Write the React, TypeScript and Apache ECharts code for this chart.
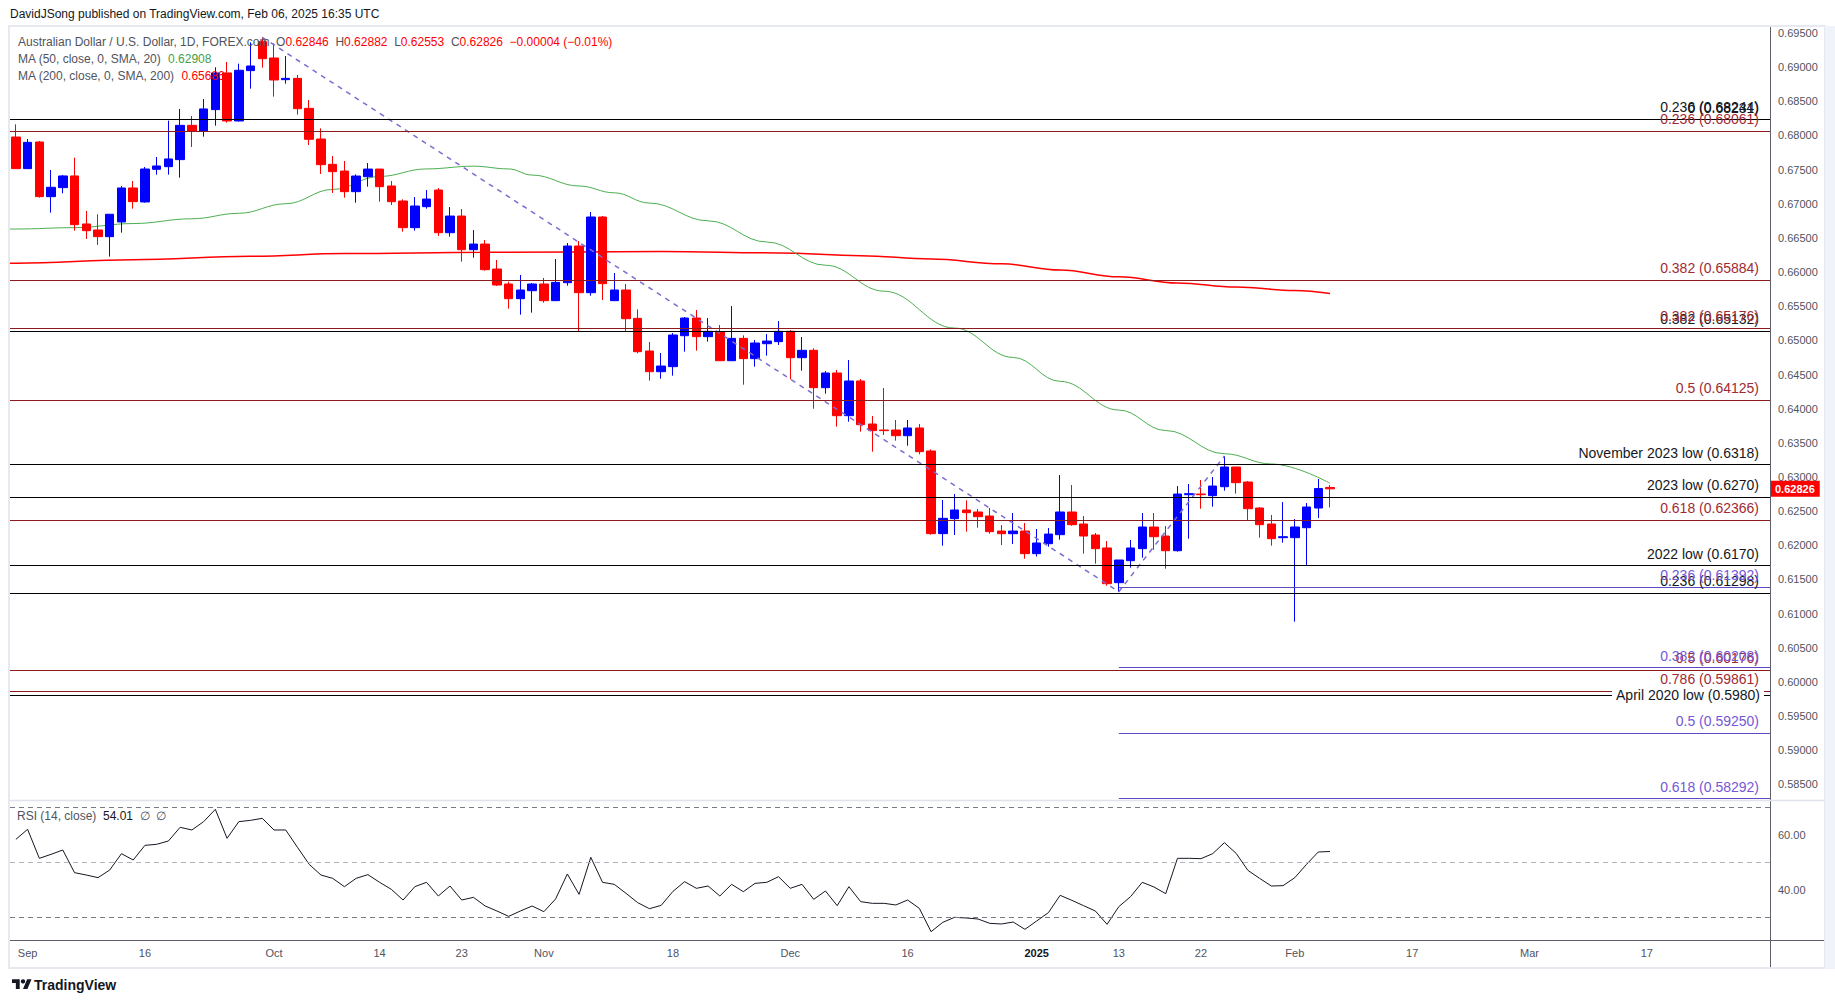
import React, { useEffect, useRef } from "react";
import * as echarts from "echarts";

// ---------- DATA ----------
// daily candles, [open, high, low, close]
const ohlc: number[][] = [
  [0.67977, 0.68163, 0.6751, 0.67514], [0.67514, 0.67948, 0.6751, 0.67899], [0.67904, 0.67919, 0.6709, 0.67104],
  [0.67104, 0.67494, 0.6687, 0.67241], [0.67236, 0.67421, 0.67153, 0.67407], [0.67407, 0.67675, 0.66606, 0.66694],
  [0.66704, 0.66894, 0.66484, 0.66606], [0.66616, 0.66846, 0.66397, 0.66518], [0.66518, 0.6685, 0.66226, 0.66846],
  [0.66733, 0.6726, 0.66577, 0.67231], [0.67231, 0.67333, 0.66928, 0.67031], [0.67026, 0.67538, 0.67016, 0.67509],
  [0.67504, 0.67685, 0.67426, 0.67553], [0.67543, 0.68217, 0.67426, 0.67656], [0.67646, 0.68388, 0.67382, 0.68148],
  [0.68148, 0.68285, 0.67831, 0.6806], [0.6806, 0.68534, 0.67982, 0.68388], [0.68378, 0.68998, 0.68143, 0.68915],
  [0.68915, 0.69076, 0.68187, 0.68212], [0.68212, 0.69051, 0.68205, 0.68954], [0.68949, 0.69363, 0.68685, 0.69017],
  [0.69373, 0.69437, 0.68993, 0.69124], [0.69134, 0.69349, 0.68568, 0.68812], [0.68817, 0.69163, 0.68758, 0.68836],
  [0.68836, 0.68885, 0.68305, 0.68392], [0.68397, 0.68519, 0.6786, 0.67943], [0.67948, 0.68104, 0.67436, 0.67572],
  [0.67577, 0.67699, 0.67158, 0.6747], [0.67479, 0.67626, 0.67089, 0.67177], [0.67177, 0.6743, 0.67016, 0.67406],
  [0.67396, 0.67596, 0.6725, 0.67508], [0.67508, 0.6751, 0.6703, 0.6725], [0.6726, 0.67333, 0.66981, 0.6703],
  [0.6704, 0.67064, 0.66591, 0.6665], [0.6665, 0.67098, 0.66606, 0.66967], [0.66957, 0.67201, 0.66928, 0.67069],
  [0.67201, 0.6723, 0.66528, 0.66576], [0.66576, 0.66952, 0.66518, 0.6682], [0.6682, 0.66923, 0.66152, 0.66327],
  [0.66327, 0.66615, 0.6621, 0.6641], [0.6641, 0.66469, 0.6602, 0.66035], [0.66044, 0.66176, 0.65796, 0.6581],
  [0.65825, 0.65859, 0.65464, 0.6561], [0.6561, 0.65957, 0.65376, 0.65737], [0.65727, 0.6584, 0.65405, 0.65825],
  [0.65825, 0.65913, 0.65552, 0.65581], [0.65581, 0.66191, 0.65575, 0.65849], [0.65844, 0.66425, 0.658, 0.66381],
  [0.66381, 0.66454, 0.65127, 0.65698], [0.65698, 0.66879, 0.65654, 0.66806], [0.66806, 0.6682, 0.65591, 0.6583],
  [0.65581, 0.65986, 0.65575, 0.65737], [0.65737, 0.65825, 0.65137, 0.65317], [0.65322, 0.65454, 0.6481, 0.64834],
  [0.64844, 0.64976, 0.6441, 0.64541], [0.64541, 0.64815, 0.64439, 0.64624], [0.64615, 0.65107, 0.64483, 0.65078],
  [0.65068, 0.65342, 0.64834, 0.65327], [0.65327, 0.65444, 0.64849, 0.65054], [0.65054, 0.65327, 0.64981, 0.65132],
  [0.65127, 0.65225, 0.647, 0.64702], [0.64702, 0.65503, 0.647, 0.65029], [0.65029, 0.65073, 0.64351, 0.64732],
  [0.64732, 0.65005, 0.64615, 0.64961], [0.64951, 0.65093, 0.64776, 0.6499], [0.64981, 0.65283, 0.64932, 0.65132],
  [0.65132, 0.65151, 0.64429, 0.64746], [0.64746, 0.65049, 0.64556, 0.64854], [0.64854, 0.64883, 0.63999, 0.64307],
  [0.64307, 0.64551, 0.64219, 0.64522], [0.64522, 0.64566, 0.63736, 0.63897], [0.63897, 0.64712, 0.63809, 0.64405],
  [0.64405, 0.64434, 0.63663, 0.63765], [0.63775, 0.63892, 0.6337, 0.63678], [0.63687, 0.64302, 0.63614, 0.63678],
  [0.63687, 0.63834, 0.63531, 0.63604], [0.63604, 0.63834, 0.63458, 0.63717], [0.63717, 0.63775, 0.63331, 0.6337],
  [0.6338, 0.63404, 0.62155, 0.6217], [0.6217, 0.62663, 0.61994, 0.62394], [0.62389, 0.6275, 0.6215, 0.62516],
  [0.62516, 0.62657, 0.62199, 0.62477], [0.62487, 0.6253, 0.62257, 0.62418], [0.62428, 0.62545, 0.62169, 0.62199],
  [0.62208, 0.62296, 0.62003, 0.62169], [0.62169, 0.62472, 0.62018, 0.62208], [0.62208, 0.62325, 0.61803, 0.61877],
  [0.61877, 0.62238, 0.61833, 0.62033], [0.62023, 0.62252, 0.61979, 0.62164], [0.62155, 0.63028, 0.62081, 0.62487],
  [0.62487, 0.62882, 0.62286, 0.62301], [0.62311, 0.62428, 0.61877, 0.62135], [0.6215, 0.62179, 0.6173, 0.6195],
  [0.6196, 0.62062, 0.61408, 0.61437], [0.61452, 0.61784, 0.6132, 0.61784], [0.61774, 0.62077, 0.61672, 0.6196],
  [0.6195, 0.62472, 0.61818, 0.62267], [0.62267, 0.62472, 0.61935, 0.62125], [0.62135, 0.62281, 0.61657, 0.6192],
  [0.6192, 0.62867, 0.61906, 0.6275], [0.6274, 0.62896, 0.62096, 0.62755], [0.6275, 0.62955, 0.62535, 0.6274],
  [0.62726, 0.62999, 0.62565, 0.62867], [0.62857, 0.63306, 0.62799, 0.63145], [0.63145, 0.6315, 0.62755, 0.62916],
  [0.62926, 0.6294, 0.62369, 0.62535], [0.62545, 0.6256, 0.62111, 0.62301], [0.62311, 0.62443, 0.61994, 0.62096],
  [0.62111, 0.62633, 0.62038, 0.62125], [0.62111, 0.62384, 0.60881, 0.62267], [0.62257, 0.62618, 0.61711, 0.6256],
  [0.62545, 0.6297, 0.62399, 0.6283], [0.62846, 0.62882, 0.62553, 0.62826],
];

// RSI(14) per candle
const rsi: number[] = [
  58.42, 62.06, 51.52, 52.97, 54.55, 46.3, 45.45, 44.49, 47.27, 53.21, 50.91, 56.24, 56.61, 57.82, 62.79, 61.82,
  64.85, 69.33, 58.79, 64.85, 65.33, 66.06, 61.82, 61.82, 55.52, 49.33, 45.45, 44.24, 41.21, 44.24, 45.58, 42.79,
  40.24, 36.36, 41.21, 42.79, 37.82, 41.45, 36.36, 37.33, 34.18, 32.36, 30.42, 32.36, 34.18, 32.12, 36.73, 45.82,
  38.42, 51.88, 42.79, 42.06, 38.79, 35.39, 33.21, 34.42, 39.5, 43.03, 40.61, 41.45, 37.82, 42.06, 39.39, 42.42,
  42.79, 44.85, 40.61, 42.06, 36.61, 39.64, 34.3, 41.21, 35.76, 35.15, 35.15, 34.55, 36.36, 33.33, 24.85, 28.24,
  30.06, 29.82, 29.45, 27.88, 27.64, 28.36, 25.7, 28.73, 31.76, 38.06, 36.24, 34.3, 32.36, 27.52, 33.94, 37.58,
  42.79, 41.09, 38.67, 51.52, 51.52, 51.39, 53.21, 57.21, 53.33, 47.15, 44.24, 41.45, 41.58, 44.48, 49.33, 53.82,
  54.01,
];

// moving averages: [bar index, value]
const ma50: number[][] = [
  [-0.5, 0.6663], [0, 0.6663], [5, 0.6665], [10, 0.6671], [15, 0.6678], [19, 0.6686], [23, 0.67], [27, 0.6721],
  [31, 0.674], [35, 0.6751], [39, 0.6755], [42, 0.6751], [44, 0.6742], [48, 0.6726], [51, 0.6716], [54, 0.6701],
  [59, 0.6675], [64, 0.6644], [69, 0.661], [74, 0.6572], [80, 0.6518], [85, 0.6475], [89, 0.644], [94, 0.6398],
  [98, 0.6368], [103, 0.6334], [107, 0.6319], [112, 0.62908],
];
const ma200: number[][] = [
  [-0.5, 0.6613], [0, 0.6613], [10, 0.6618], [20, 0.6623], [28, 0.6627], [40, 0.6629], [55, 0.663], [65, 0.6628],
  [72, 0.6624], [78, 0.6619], [84, 0.6612], [89, 0.6603], [94, 0.6593], [99, 0.6584], [104, 0.6578], [109, 0.6573],
  [112, 0.65686],
];

// dashed trend lines: Sep 30 high -> Jan 13 low -> Jan 24 high
const trendPoints: number[][] = [[21, 0.69437], [94, 0.6132], [103, 0.63306]];

// horizontal levels [price, label]
const blackLevels: [number, string][] = [
  [0.68244, "0.236 (0.68244)"], [0.68231, "0 (0.68231)"], [0.65132, "0.382 (0.65132)"],
  [0.6318, "November 2023 low (0.6318)"], [0.627, "2023 low (0.6270)"], [0.617, "2022 low (0.6170)"],
  [0.61298, "0.236 (0.61298)"], [0.598, "April 2020 low (0.5980)"],
];
const redLevels: [number, string][] = [
  [0.68061, "0.236 (0.68061)"], [0.65884, "0.382 (0.65884)"], [0.65176, "0.382 (0.65176)"],
  [0.64125, "0.5 (0.64125)"], [0.62366, "0.618 (0.62366)"], [0.60176, "0.5 (0.60176)"],
  [0.59861, "0.786 (0.59861)"],
];
const purpleStartIndex = 94; // Jan 13 low
const purpleLevels: [number, string][] = [
  [0.61392, "0.236 (0.61392)"], [0.60208, "0.382 (0.60208)"], [0.5925, "0.5 (0.59250)"], [0.58292, "0.618 (0.58292)"],
];

const ma50Label = "MA (50, close, 0, SMA, 20)";
const ma200Label = "MA (200, close, 0, SMA, 200)";
const symbolLabel = "Australian Dollar / U.S. Dollar, 1D, FOREX.com";
const headerText = "DavidJSong published on TradingView.com, Feb 06, 2025 16:35 UTC";

const tickLabels: [string, string][] = [
  ["2024-09-02", "Sep"], ["2024-09-16", "16"], ["2024-10-01", "Oct"], ["2024-10-14", "14"], ["2024-10-23", "23"],
  ["2024-11-01", "Nov"], ["2024-11-18", "18"], ["2024-12-02", "Dec"], ["2024-12-16", "16"], ["2025-01-02", "2025"],
  ["2025-01-13", "13"], ["2025-01-22", "22"], ["2025-02-03", "Feb"], ["2025-02-17", "17"], ["2025-03-03", "Mar"],
  ["2025-03-17", "17"],
];
const holidays = ["2024-12-25", "2025-01-01"];
const firstDate = "2024-08-30";
const TOTAL_SLOTS = 150;

// ---------- helpers ----------
function buildDates(): string[] {
  const out: string[] = [];
  const skip = new Set(holidays);
  const d = new Date(firstDate + "T00:00:00Z");
  while (out.length < TOTAL_SLOTS) {
    const wd = d.getUTCDay();
    const s = d.toISOString().slice(0, 10);
    if (wd !== 0 && wd !== 6 && !skip.has(s)) out.push(s);
    d.setUTCDate(d.getUTCDate() + 1);
  }
  return out;
}

const logoPath = "M14 22H7V11H0V4h14v18zM28 22h-8l7.5-18h8L28 22z";
try {
  echarts.graphic.registerShape("tvlogo", echarts.graphic.extendPath(logoPath, {}) as any);
} catch (e) {}

const FONT = '"Liberation Sans", Arial, sans-serif';
const W = 1835;
const H = 1003;
const PX = 6830; // px per price unit
const priceMin = 0.58;
const priceMax = 0.695 + 33 / PX;
const RIGHT = 65;
const LEFT = 10;
const RED_LINE = "#8e1b1b";
const RED_TEXT = "#a22a33";
const PUR_LINE = "#5e4ac2";
const PUR_TEXT = "#7458d6";
const AXIS_TXT = "#50535e";

function buildOption() {
  const cats = buildDates();
  const labelMap = new Map(tickLabels);
  const last = ohlc[ohlc.length - 1];
  const prev = ohlc[ohlc.length - 2];
  const lastClose = last[3];
  const chg = lastClose - prev[3];
  const pct = (chg / prev[3]) * 100;
  const fmtSigned = (v: number, d: number) => (v < 0 ? "\u2212" : "+") + Math.abs(v).toFixed(d);
  const endX = TOTAL_SLOTS - 0.5;

  const levelItem = (p: number, text: string, lineColor: string, textColor: string, x0: number, extra: any = {}) => [
    {
      coord: [x0, p],
      lineStyle: { color: lineColor, width: 1, type: "solid" },
      label: {
        show: true,
        position: "insideEndTop",
        formatter: text,
        color: textColor,
        fontSize: 14,
        fontFamily: FONT,
        distance: [11, 5],
        ...extra,
      },
    },
    { coord: [endX, p] },
  ];

  const levelData: any[] = [];
  blackLevels.forEach(([p, t]) => {
    const extra = t.startsWith("April")
      ? { backgroundColor: "#ffffff", padding: [1, 4], distance: [6, -7] }
      : {};
    levelData.push(levelItem(p, t, "#000000", "#131722", -0.5, extra));
  });
  redLevels.forEach(([p, t]) => levelData.push(levelItem(p, t, RED_LINE, RED_TEXT, -0.5)));
  purpleLevels.forEach(([p, t]) => levelData.push(levelItem(p, t, PUR_LINE, PUR_TEXT, purpleStartIndex)));

  const lg = (n: string, v: string) => `{k|${n}}{r|${v}}`;
  const legend1 =
    `{g|${symbolLabel}}  ` +
    `${lg("O", last[0].toFixed(5))}  ${lg("H", last[1].toFixed(5))}  ${lg("L", last[2].toFixed(5))}  ${lg("C", last[3].toFixed(5))}  ` +
    `{r|${fmtSigned(chg, 5)} (${fmtSigned(pct, 2)}%)}`;

  const ma50Last = ma50[ma50.length - 1][1];
  const ma200Last = ma200[ma200.length - 1][1];
  const rsiLast = rsi[rsi.length - 1];

  const option: any = {
    animation: false,
    backgroundColor: "#ffffff",
    textStyle: { fontFamily: FONT },
    grid: [
      { left: LEFT, right: RIGHT, top: 0, height: (priceMax - priceMin) * PX },
      { left: LEFT, right: RIGHT, top: 780, height: 165 },
    ],
    xAxis: [
      {
        type: "category", gridIndex: 0, data: cats, boundaryGap: true,
        axisLine: { show: false }, axisTick: { show: false }, axisLabel: { show: false }, splitLine: { show: false },
      },
      { type: "value", gridIndex: 0, min: -0.5, max: endX, show: false },
      {
        type: "category", gridIndex: 1, data: cats, boundaryGap: true,
        axisLine: { show: false }, axisTick: { show: false }, splitLine: { show: false },
        axisLabel: {
          interval: (_i: number, v: string) => labelMap.has(v),
          formatter: (v: string) => {
            const t = labelMap.get(v) || "";
            return t === "2025" ? "{b|2025}" : t;
          },
          color: AXIS_TXT, fontSize: 11, margin: 2, fontFamily: FONT,
          rich: { b: { fontWeight: "bold", fontSize: 11, color: "#131722", fontFamily: FONT } },
        },
      },
    ],
    yAxis: [
      {
        type: "value", gridIndex: 0, position: "right", min: priceMin, max: priceMax, interval: 0.005,
        axisLine: { show: false }, axisTick: { show: false }, splitLine: { show: false },
        axisLabel: {
          margin: 8, color: AXIS_TXT, fontSize: 11, fontFamily: FONT,
          formatter: (v: number) => {
            const k = v / 0.005;
            if (Math.abs(k - Math.round(k)) > 1e-6 || v < 0.5849 || v > 0.6951) return "";
            return v.toFixed(5);
          },
        },
      },
      {
        type: "value", gridIndex: 1, position: "right", min: 20, max: 80, interval: 20,
        axisLine: { show: false }, axisTick: { show: false }, splitLine: { show: false },
        axisLabel: {
          margin: 8, color: AXIS_TXT, fontSize: 11, fontFamily: FONT,
          formatter: (v: number) => (v === 40 || v === 60 ? v.toFixed(2) : ""),
        },
      },
    ],
    series: [
      {
        type: "line", name: "MA200", xAxisIndex: 1, yAxisIndex: 0, data: ma200, symbol: "none",
        smooth: 0.4, smoothMonotone: "x", lineStyle: { color: "#ff0000", width: 1.5 }, z: 2,
      },
      {
        type: "line", name: "MA50", xAxisIndex: 1, yAxisIndex: 0, data: ma50, symbol: "none",
        smooth: 0.4, smoothMonotone: "x", lineStyle: { color: "#4caf50", width: 1 }, z: 2,
      },
      {
        type: "candlestick", xAxisIndex: 0, yAxisIndex: 0, barWidth: 9, z: 3,
        data: ohlc.map(([o, h, l, c]) => [o, c, l, h]),
        itemStyle: { color: "#0000ff", color0: "#ff0000", borderColor: "#0000ff", borderColor0: "#ff0000", borderWidth: 1 },
      },
      {
        type: "line", name: "trend", xAxisIndex: 1, yAxisIndex: 0, data: trendPoints, symbol: "none", z: 4,
        lineStyle: { color: "#7e6bd0", width: 1.5, type: [5, 5] },
        markLine: {
          silent: true, symbol: ["none", "none"], animation: false, precision: 5,
          lineStyle: { type: "solid", width: 1 },
          data: levelData,
        },
      },
      {
        // last price tag on the price scale
        type: "line", name: "lastPrice", xAxisIndex: 1, yAxisIndex: 0, symbol: "none", z: 10,
        data: [[-0.5, lastClose], [endX, lastClose]],
        lineStyle: { color: "rgba(0,0,0,0)", width: 0 },
        endLabel: {
          show: true, formatter: lastClose.toFixed(5), distance: 0,
          backgroundColor: "#ff0000", color: "#ffffff", fontWeight: "bold", fontSize: 11,
          fontFamily: FONT, padding: [3, 5, 2, 5], align: "left", verticalAlign: "middle",
        },
      },
      {
        type: "line", name: "RSI", xAxisIndex: 2, yAxisIndex: 1, data: rsi, symbol: "none",
        lineStyle: { color: "#131722", width: 1 }, z: 3,
        markLine: {
          silent: true, symbol: ["none", "none"], animation: false, label: { show: false },
          lineStyle: { type: [5, 4], width: 1 },
          data: [
            { yAxis: 70, lineStyle: { color: "#787b86" } },
            { yAxis: 50, lineStyle: { color: "#b2b5be" } },
            { yAxis: 30, lineStyle: { color: "#787b86" } },
          ],
        },
      },
    ],
    graphic: [
      // frame
      { type: "rect", shape: { x: 9, y: 26, width: 1816, height: 942 }, style: { fill: "none", stroke: "#e6e9ef", lineWidth: 2 }, z: 100, silent: true },
      { type: "rect", shape: { x: 1825, y: 26, width: 10, height: 943 }, style: { fill: "#f0f3fa" }, z: 100, silent: true },
      // price axis vertical line
      { type: "line", shape: { x1: 1770.5, y1: 27, x2: 1770.5, y2: 967 }, style: { stroke: "#5d606b", lineWidth: 1 }, z: 100, silent: true },
      // pane separator
      { type: "line", shape: { x1: 10, y1: 800.5, x2: 1824, y2: 800.5 }, style: { stroke: "#e0e3eb", lineWidth: 1.5 }, z: 100, silent: true },
      // time axis line
      { type: "line", shape: { x1: 10, y1: 940.5, x2: 1824, y2: 940.5 }, style: { stroke: "#5d606b", lineWidth: 1 }, z: 100, silent: true },
      // header
      {
        type: "text", x: 10, y: 14, z: 100, silent: true,
        style: { text: headerText, fill: "#131722", fontSize: 12, fontFamily: FONT, verticalAlign: "middle", align: "left" },
      },
      // legends
      {
        type: "text", x: 18, y: 42, z: 100, silent: true,
        style: {
          text: legend1, fontSize: 12, fontFamily: FONT, verticalAlign: "middle", align: "left",
          rich: {
            g: { fill: "#50535e", fontSize: 12, fontFamily: FONT },
            k: { fill: "#50535e", fontSize: 12, fontFamily: FONT },
            r: { fill: "#ff0000", fontSize: 12, fontFamily: FONT },
          },
        },
      },
      {
        type: "text", x: 18, y: 59, z: 100, silent: true,
        style: {
          text: `{g|${ma50Label}}  {v|${ma50Last.toFixed(5)}}`, fontSize: 12, fontFamily: FONT, verticalAlign: "middle", align: "left",
          rich: { g: { fill: "#50535e", fontSize: 12, fontFamily: FONT }, v: { fill: "#43a047", fontSize: 12, fontFamily: FONT } },
        },
      },
      {
        type: "text", x: 18, y: 76, z: 100, silent: true,
        style: {
          text: `{g|${ma200Label}}  {v|${ma200Last.toFixed(5)}}`, fontSize: 12, fontFamily: FONT, verticalAlign: "middle", align: "left",
          rich: { g: { fill: "#50535e", fontSize: 12, fontFamily: FONT }, v: { fill: "#ff0000", fontSize: 12, fontFamily: FONT } },
        },
      },
      {
        type: "text", x: 17, y: 816, z: 100, silent: true,
        style: {
          text: `{g|RSI (14, close)}  {v|${rsiLast.toFixed(2)}}  {g|\u2205  \u2205}`, fontSize: 12, fontFamily: FONT, verticalAlign: "middle", align: "left",
          rich: { g: { fill: "#50535e", fontSize: 12, fontFamily: FONT }, v: { fill: "#131722", fontSize: 12, fontFamily: FONT } },
        },
      },
      // footer logo
      { type: "tvlogo", x: 12, y: 977, scaleX: 0.55, scaleY: 0.55, style: { fill: "#131722" }, z: 100, silent: true },
      { type: "circle", shape: { cx: 12 + 20 * 0.55, cy: 977 + 8 * 0.55, r: 4 * 0.55 }, style: { fill: "#131722" }, z: 100, silent: true },
      {
        type: "text", x: 34, y: 985, z: 100, silent: true,
        style: { text: "TradingView", fill: "#131722", fontSize: 14, fontWeight: "bold", fontFamily: FONT, verticalAlign: "middle", align: "left" },
      },
    ],
  };
  return option;
}

export default function App() {
  const ref = useRef<HTMLDivElement>(null);
  useEffect(() => {
    if (!ref.current) return;
    const chart = echarts.init(ref.current, undefined, { renderer: "svg", width: W, height: H });
    chart.setOption(buildOption());
    return () => chart.dispose();
  }, []);
  return (
    <div
      ref={ref}
      style={{ position: "fixed", left: 0, top: 0, width: W, height: H, background: "#ffffff" }}
    />
  );
}
